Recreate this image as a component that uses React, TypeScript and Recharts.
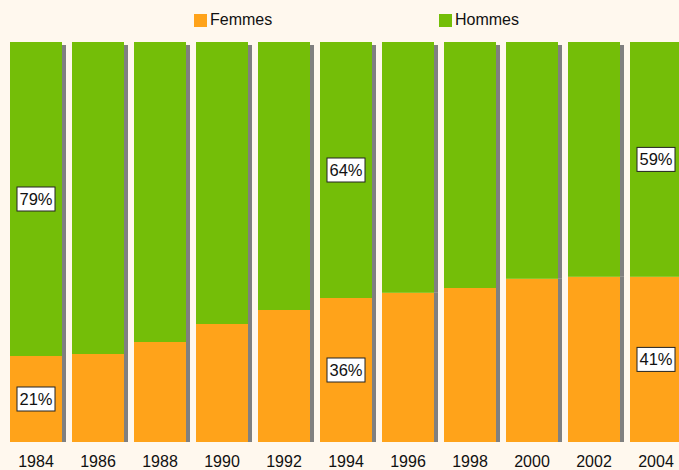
import React from 'react';
import { BarChart, Bar, XAxis, YAxis, Legend, LabelList } from 'recharts';

const years = ['1984', '1986', '1988', '1990', '1992', '1994', '1996', '1998', '2000', '2002', '2004'];
const femmes = [21.5, 22, 25, 29.5, 33, 36, 37.3, 38.5, 40.8, 41.3, 41.3];
const hommes = [78.5, 78, 75, 70.5, 67, 64, 62.7, 61.5, 59.2, 58.7, 58.7];
const femmesLabels = ['21%', '', '', '', '', '36%', '', '', '', '', '41%'];
const hommesLabels = ['79%', '', '', '', '', '64%', '', '', '', '', '59%'];

const ORANGE = '#FFA31A';
const GREEN = '#74BE08';
const SHADOW = '#808080';
const BG = '#FFF8EE';
const FONT = '"Liberation Sans", Arial, sans-serif';

const data = years.map((y, i) => ({ year: y, femmes: femmes[i], hommes: hommes[i] }));

const FemmesShape = (p: any) => {
  const { x, y, width, height } = p;
  return (
    <g>
      <rect x={x + width} y={y} width={4} height={height} fill={SHADOW} />
      <rect x={x} y={y} width={width} height={height} fill={ORANGE} />
    </g>
  );
};

const HommesShape = (p: any) => {
  const { x, y, width, height } = p;
  return (
    <g>
      <rect x={x + width} y={y + 3} width={4} height={height - 3} fill={SHADOW} />
      <rect x={x} y={y} width={width} height={height} fill={GREEN} />
    </g>
  );
};

const makeLabel = (labels: string[]) => (p: any) => {
  const { x, y, width, height, index } = p;
  const txt = labels[index];
  if (!txt) return null;
  const cx = x + width / 2;
  const cy = y + height / 2;
  return (
    <g>
      <rect x={cx - 19} y={cy - 12} width={38} height={24} fill="#ffffff" stroke="#222" strokeWidth={1} />
      <text x={cx} y={cy + 6} textAnchor="middle" fontSize={16.5} fontFamily={FONT} fill="#111">
        {txt}
      </text>
    </g>
  );
};

const LegendContent = () => (
  <div style={{ position: 'relative', width: 679, height: 40, fontFamily: FONT, fontSize: 16, color: '#111' }}>
    <div style={{ position: 'absolute', left: 194, top: 14, width: 13, height: 13, background: ORANGE }} />
    <div style={{ position: 'absolute', left: 210, top: 10, lineHeight: '20px' }}>Femmes</div>
    <div style={{ position: 'absolute', left: 439, top: 14, width: 13, height: 13, background: GREEN }} />
    <div style={{ position: 'absolute', left: 455, top: 10, lineHeight: '20px' }}>Hommes</div>
  </div>
);

export default function App() {
  return (
    <div style={{ position: 'absolute', left: 0, top: 0, width: 679, height: 470, overflow: 'hidden', background: BG }}>
      <BarChart width={700} height={470} data={data} margin={{ top: 42, right: 13, bottom: 0, left: 5 }}>
        <XAxis
          dataKey="year"
          axisLine={false}
          tickLine={false}
          tickSize={0}
          tickMargin={14}
          height={28}
          interval={0}
          tick={{ fontSize: 16, fontFamily: FONT, fill: '#111' }}
        />
        <YAxis hide domain={[0, 100]} />
        <Legend
          layout="horizontal"
          verticalAlign="middle"
          align="center"
          wrapperStyle={{ top: 0, left: 0, width: 679, height: 40 }}
          content={<LegendContent />}
        />
        <Bar dataKey="femmes" stackId="a" barSize={52} shape={<FemmesShape />} isAnimationActive={false}>
          <LabelList dataKey="femmes" content={makeLabel(femmesLabels)} />
        </Bar>
        <Bar dataKey="hommes" stackId="a" barSize={52} shape={<HommesShape />} isAnimationActive={false}>
          <LabelList dataKey="hommes" content={makeLabel(hommesLabels)} />
        </Bar>
      </BarChart>
    </div>
  );
}
